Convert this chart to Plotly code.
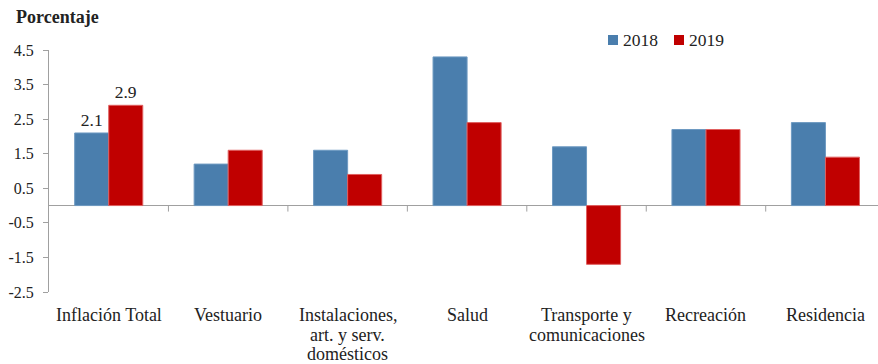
import plotly.graph_objects as go

categories = ["Inflación Total", "Vestuario", "Instalaciones,<br>art. y serv.<br>domésticos",
              "Salud", "Transporte y<br>comunicaciones", "Recreación", "Residencia"]
values_2018 = [2.1, 1.2, 1.6, 4.3, 1.7, 2.2, 2.4]
values_2019 = [2.9, 1.6, 0.9, 2.4, -1.7, 2.2, 1.4]
series_names = ["2018", "2019"]
y_ticks = [-2.5, -1.5, -0.5, 0.5, 1.5, 2.5, 3.5, 4.5]
labelled = [0]  # categories with data labels

FONT = "Liberation Serif, Times New Roman, DejaVu Serif, serif"
BLUE = "#4A7EAD"
RED = "#C00000"
AXIS = "#A0A0A0"
TXT = "#222"

W, H = 878, 364
ML, MR, MT, MB = 49, 0, 50, 72
PW, PH = W - ML - MR, H - MT - MB

def px_x(px):
    return (px - ML) / PW

def px_y(py):
    return (H - MB - py) / PH

def labels(vals):
    return [f"{v:.1f}" if i in labelled else "" for i, v in enumerate(vals)]

fig = go.Figure()
colors = [BLUE, RED]
edges = ["#6E9AC2", "#E06060"]
for name, vals, c, e in zip(series_names, [values_2018, values_2019], colors, edges):
    fig.add_trace(go.Bar(x=list(range(len(categories))), y=vals, name=name,
                         marker=dict(color=c, line=dict(color=e, width=1)),
                         text=labels(vals), textposition="outside", cliponaxis=False,
                         textfont=dict(family=FONT, size=17.5, color=TXT),
                         showlegend=False))

# category separator ticks on the zero line
for i in range(len(categories)):
    fig.add_shape(type="line", xref="x", yref="y", x0=i + 0.5, x1=i + 0.5,
                  ysizemode="pixel", yanchor=0, y0=0, y1=-6,
                  line=dict(color=AXIS, width=1))

annotations = [dict(text="<b>Porcentaje</b>", xref="paper", yref="paper",
                    x=px_x(14), y=px_y(17), xanchor="left", yanchor="middle", showarrow=False,
                    font=dict(family=FONT, size=18, color=TXT))]

# category labels (one annotation per line for tight line spacing)
for i, cat in enumerate(categories):
    for j, line in enumerate(cat.split("<br>")):
        annotations.append(dict(text=line, xref="x", yref="paper", x=i, y=px_y(315 + 19.5 * j),
                                xanchor="center", yanchor="middle", showarrow=False,
                                font=dict(family=FONT, size=18, color=TXT)))

# legend (drawn manually for exact spacing)
for k, (name, c) in enumerate(zip(series_names, colors)):
    x0 = 608 + 66 * k
    fig.add_shape(type="rect", xref="paper", yref="paper",
                  x0=px_x(x0), x1=px_x(x0 + 10), y0=px_y(45), y1=px_y(35),
                  fillcolor=c, line=dict(width=0))
    annotations.append(dict(text=name, xref="paper", yref="paper",
                            x=px_x(x0 + 13), y=px_y(40), xanchor="left", yanchor="middle",
                            showarrow=False, font=dict(family=FONT, size=17.5, color=TXT)))

fig.update_layout(
    width=W, height=H,
    margin=dict(l=ML, r=MR, t=MT, b=MB),
    paper_bgcolor="white", plot_bgcolor="white",
    barmode="group", bargap=0.43, bargroupgap=0,
    font=dict(family=FONT, size=16, color=TXT),
    showlegend=False,
    xaxis=dict(tickmode="array", tickvals=list(range(len(categories))),
               range=[-0.5, 6.44], showline=False, showgrid=False, zeroline=False,
               ticks="", showticklabels=False, automargin=False),
    yaxis=dict(range=[-2.5, 4.5], tickmode="array", tickvals=y_ticks,
               ticktext=[f"{t:.1f}" for t in y_ticks],
               showline=True, linecolor=AXIS, linewidth=1, automargin=False,
               ticks="outside", ticklen=5, tickcolor=AXIS, ticklabelstandoff=6,
               showgrid=False, zeroline=True, zerolinecolor=AXIS, zerolinewidth=1,
               tickfont=dict(family=FONT, size=16, color=TXT)),
    annotations=annotations,
)

fig.write_html("out.html")
